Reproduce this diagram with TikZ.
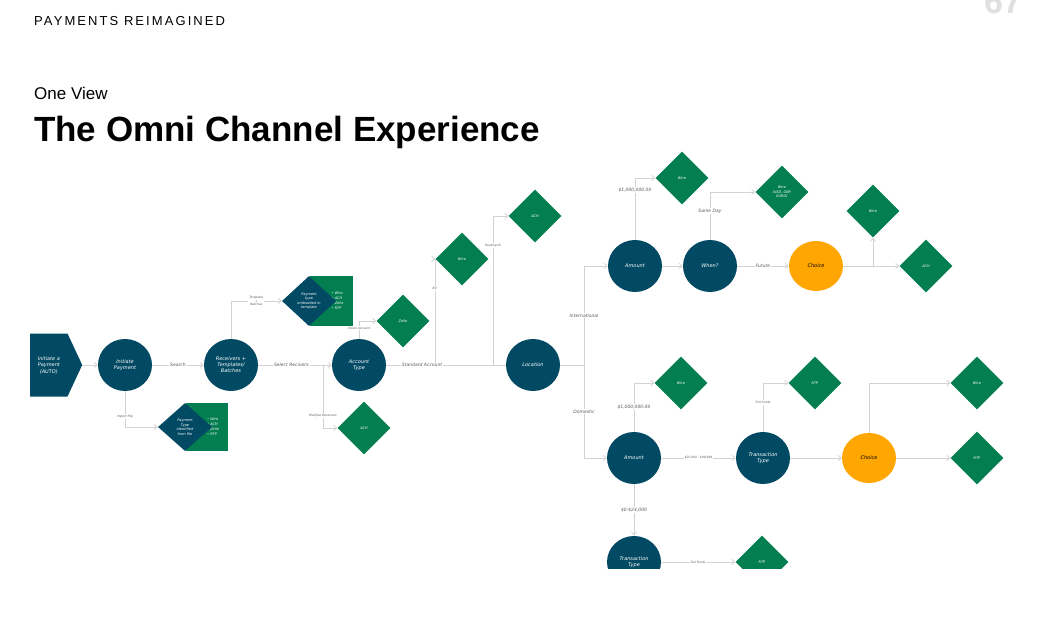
\documentclass[tikz,border=0pt]{standalone}
\usepackage{fontspec}
\setmainfont{Liberation Sans}
\newfontfamily\hand{DejaVu Sans}
\usetikzlibrary{shapes.geometric,shapes.symbols,arrows.meta}
\definecolor{dk}{HTML}{024A63}
\definecolor{gr}{HTML}{037E50}
\definecolor{orng}{HTML}{FFA600}
\definecolor{ln}{HTML}{D2D2D2}
\tikzset{
 circ/.style={ellipse,fill=dk,minimum width=54pt,minimum height=52pt,inner sep=0pt,text=white,font=\hand\itshape\fontsize{5}{6}\selectfont,align=center},
 ch/.style={circ,fill=orng,text=black,minimum width=54pt,minimum height=50pt},
 dia/.style={diamond,fill=gr,minimum width=53pt,minimum height=53pt,inner sep=0pt,text=white,font=\hand\itshape\fontsize{3.5}{4.5}\selectfont,align=center},
 ddia/.style={dia,fill=dk},
 box/.style={rectangle,fill=gr,inner sep=0pt,text=white,font=\hand\itshape\fontsize{3.5}{5}\selectfont,align=left},
 e/.style={draw=ln,line width=0.8pt,-{Straight Barb[length=3pt,width=5pt]}},
 l/.style={draw=ln,line width=0.8pt},
 lb/.style={fill=white,inner sep=1pt,text=black!65,font=\hand\itshape\fontsize{4.5}{5}\selectfont,align=center},
 sl/.style={lb,font=\hand\itshape\fontsize{3}{3.5}\selectfont},
}
\begin{document}
\begin{tikzpicture}[x=1pt,y=-1pt]
\useasboundingbox (0,0) rectangle (1037,618);
\fill[white] (0,0) rectangle (1037,618);
\node[anchor=west,inner sep=0pt,font=\fontsize{13}{15}\selectfont] (hdr) at (34,21) {\addfontfeature{LetterSpace=16}PAYMENTS REIMAGINED};
\node[anchor=west,inner sep=0pt,font=\fontsize{17}{20}\selectfont] (ov) at (34,93) {One View};
\node[anchor=west,inner sep=0pt,font=\bfseries\fontsize{35}{40}\selectfont] (tt) at (34,132) {The Omni Channel Experience};
\begin{scope}
\clip (0,0) rectangle (1037,568);
\node[text=black!12,font=\bfseries\fontsize{34}{34}\selectfont] (pg) at (1003,2) {67};
\node[signal,signal to=east,signal pointer angle=130,fill=dk,minimum width=52pt,minimum height=63pt,inner sep=0pt,text=white,font=\hand\itshape\fontsize{5}{6.5}\selectfont,align=center,anchor=west] (st) at (30,365) {Initiate a\\Payment\\(AUTO)};
\node[circ] (ip) at (125,365) {Initiate\\Payment};
\node[circ] (rc) at (231,365) {Receivers +\\Templates/\\Batches};
\node[circ] (at) at (359,365) {Account\\Type};
\node[circ] (loc) at (533,365) {Location};
\node[circ] (am1) at (635,266) {Amount};
\node[circ] (wh) at (710,266) {When?};
\node[ch] (c1) at (816,266) {Choice};
\node[circ] (am2) at (634,458) {Amount};
\node[circ] (tt2) at (763,458) {Transaction\\Type};
\node[ch] (c2) at (869,458) {Choice};
\node[circ] (tt3) at (634,562) {Transaction\\Type};
% split diamonds
\node[box,minimum width=43pt,minimum height=50pt] (b1) at (331.5,301) {\hspace*{12pt}\textbullet\ Wire\\\hspace*{12pt}\textbullet\ ACH\\\hspace*{12pt}\textbullet\ Zelle\\\hspace*{12pt}\textbullet\ RTP};
\node[ddia,minimum width=54pt,minimum height=50pt] (d1) at (309,301) {Payment\\type\\embedded in\\template};
\node[box,minimum width=42pt,minimum height=48pt] (b2) at (207,427) {\hspace*{12pt}\textbullet\ Wire\\\hspace*{12pt}\textbullet\ ACH\\\hspace*{12pt}\textbullet\ Zelle\\\hspace*{12pt}\textbullet\ RTP};
\node[ddia,minimum width=54pt,minimum height=48pt] (d2) at (185,427) {Payment\\Type\\identified\\from file};
% diamonds
\node[dia] (ze) at (403,321) {Zelle};
\node[dia] (ach1) at (364,428) {ACH};
\node[dia] (w1) at (462,259) {Wire};
\node[dia] (ach2) at (535,216) {ACH};
\node[dia] (w2) at (682,178) {Wire};
\node[dia] (w3) at (782,192) {Wire\\(USD, GBP,\\EURO)};
\node[dia] (w4) at (873,211) {Wire};
\node[dia] (ach3) at (926,266) {ACH};
\node[dia] (w5) at (681,383) {Wire};
\node[dia] (r1) at (815,383) {RTP};
\node[dia] (w6) at (977,383) {Wire};
\node[dia] (r2) at (977,458) {RTP};
\node[dia] (r3) at (762,562) {RTP};
% helper coordinates
\coordinate (j1) at (323,365);
\coordinate (j2) at (435,365);
\coordinate (j3) at (493,365);
\coordinate (j4) at (584,365);
\coordinate (j5) at (873,266);
% edges
\draw[e] (st) -- (ip);
\draw[e] (ip) -- node[lb]{Search} (rc);
\draw[e] (rc) -- node[lb,pos=0.45]{Select Recivers} (at);
\draw[l] (at) -- node[lb,pos=0.3]{Standard Account} (loc);
\draw[e] (ip.south) |- node[sl,pos=0.35]{Import File} (d2.west);
\draw[e] (rc.north) |- node[sl,pos=0.75]{Template\\+\\Batches} (d1.west);
\draw[e] (j1) |- node[sl,pos=0.4]{Multiple Receivers} (ach1.west);
\draw[e] (at.north) |- node[sl,pos=0.3]{Token Account} (ze.west);
\draw[e] (j2) |- node[sl,pos=0.36]{Bic} (w1.west);
\draw[e] (j3) |- node[sl,pos=0.4]{Routing ID} (ach2.west);
\draw[l] (loc) -- (j4);
\draw[e] (j4) |- node[lb,pos=0.25]{International} (am1.west);
\draw[e] (j4) |- node[lb,pos=0.25]{Domestic} (am2.west);
\draw[e] (am1.north) |- node[lb,pos=0.4]{\$1,000,000.00} (w2.west);
\draw[e] (am1) -- (wh);
\draw[e] (wh.north) |- node[lb,pos=0.3]{Same Day} (w3.west);
\draw[e] (wh) -- node[lb]{Future} (c1);
\draw[e] (c1) -- (ach3);
\draw[e] (j5) -- (w4.south);
\draw[e] (am2.north) |- node[lb,pos=0.25]{\$1,000,000.00} (w5.west);
\draw[e] (am2) -- node[sl]{\$25,000 - \$99,999} (tt2);
\draw[e] (tt2.north) |- node[sl,pos=0.3]{Full Funds} (r1.west);
\draw[e] (tt2) -- (c2);
\draw[e] (c2.north) |- (w6.west);
\draw[e] (c2) -- (r2);
\draw[e] (am2) -- node[lb]{\$0-\$24,000} (tt3);
\draw[e] (tt3) -- node[sl]{Full Funds} (r3);
\end{scope}
\end{tikzpicture}
\end{document}
